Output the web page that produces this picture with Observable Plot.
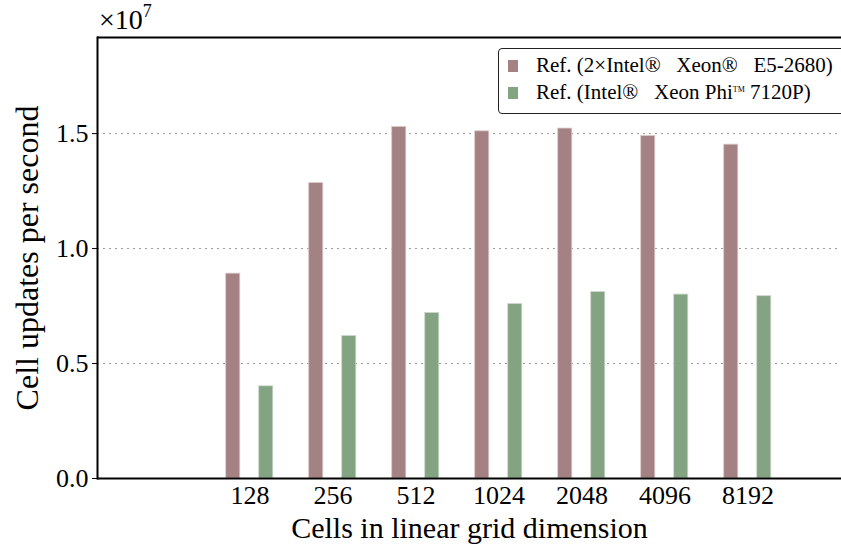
<!DOCTYPE html>
<html>
<head>
<meta charset="utf-8">
<script src="https://cdn.jsdelivr.net/npm/d3@7"></script>
<script src="https://cdn.jsdelivr.net/npm/@observablehq/plot@0.6"></script>
<style>
  html, body { margin: 0; padding: 0; background: #fff; }
  #wrap { position: relative; width: 841px; height: 544px; font-family: "Liberation Serif", "DejaVu Serif", serif; }
  #wrap svg { font-family: "Liberation Serif", serif; }
  g[aria-label="y-axis label"] text { font-size: 32px; }
  g[aria-label="x-axis label"] text { font-size: 30px; }
  #scale { position: absolute; left: 99px; top: 3px; font-size: 28px; color: #000; }
  #scale sup { font-size: 18px; position: relative; top: -2px; }
  #legend { position: absolute; left: 498px; top: 48px; width: 350px; height: 64px; border: 1px solid #222; border-radius: 4px; background: #fff; font-size: 21px; }
  .row { position: absolute; left: 9px; display: flex; align-items: center; white-space: pre; }
  .sw { width: 10px; height: 12px; margin-right: 18px; }
  .tm { font-size: 8px; position: relative; top: -7px; }
</style>
</head>
<body>
<div id="wrap"></div>
<script>
const sizes = ["128", "256", "512", "1024", "2048", "4096", "8192"];
const xeonValues = [8.91e6, 12.85e6, 15.29e6, 15.10e6, 15.22e6, 14.90e6, 14.52e6];
const phiValues = [4.01e6, 6.20e6, 7.20e6, 7.59e6, 8.11e6, 8.00e6, 7.93e6];
const yTicks = [0, 0.5e7, 1.0e7, 1.5e7];
const gridTicks = [0.5e7, 1.0e7, 1.5e7];
const seriesNames = ["Ref. (2×Intel®   Xeon®   E5-2680)", "Ref. (Intel®   Xeon Phi™ 7120P)"];
const colors = ["#a48283", "#84a383"];

const xeon = sizes.map((s, i) => ({size: s, value: xeonValues[i]}));
const phi = sizes.map((s, i) => ({size: s, value: phiValues[i]}));

const chart = Plot.plot({
  width: 841,
  height: 544,
  marginLeft: 97,
  marginRight: 0,
  marginTop: 37,
  marginBottom: 66,
  style: {fontFamily: "Liberation Serif", fontSize: "26px", background: "#fff", color: "#000"},
  x: {domain: sizes, range: [207.33, 790.67], padding: 0},
  y: {domain: [0, 1.918e7]},
  marks: [
    Plot.ruleY(gridTicks, {stroke: "#999", strokeWidth: 1, strokeDasharray: "2,4"}),
    Plot.barY(xeon, {x: "size", y: "value", fill: colors[0], stroke: "#dccbcb", strokeWidth: 0.8, insetLeft: 17.7, insetRight: 51.2}),
    Plot.barY(phi, {x: "size", y: "value", fill: colors[1], stroke: "#cddacc", strokeWidth: 0.8, insetLeft: 50.7, insetRight: 18.2}),
    Plot.ruleY([0], {stroke: "#000", strokeWidth: 2}),
    Plot.ruleY([1.918e7], {stroke: "#000", strokeWidth: 2}),
    Plot.frame({anchor: "left", stroke: "#000", strokeWidth: 2}),
    Plot.axisY({ticks: yTicks, tickFormat: d => (d / 1e7).toFixed(1), tickSize: 5, tickPadding: 4, label: "Cell updates per second", labelAnchor: "center", labelArrow: "none", labelOffset: 82}),
    Plot.axisX({tickSize: 0, tickPadding: 7, label: "Cells in linear grid dimension", labelAnchor: "center", labelArrow: "none", labelOffset: 59})
  ]
});

const wrap = document.getElementById("wrap");
wrap.appendChild(chart);

const scale = document.createElement("div");
scale.id = "scale";
scale.innerHTML = "×10<sup>7</sup>";
wrap.appendChild(scale);

const legend = document.createElement("div");
legend.id = "legend";
seriesNames.forEach((name, i) => {
  const row = document.createElement("div");
  row.className = "row";
  row.style.top = (i === 0 ? 4 : 31) + "px";
  const sw = document.createElement("span");
  sw.className = "sw";
  sw.style.background = colors[i];
  row.appendChild(sw);
  const t = document.createElement("span");
  if (name.includes("™")) {
    const parts = name.split("™");
    t.append(parts[0]);
    const tm = document.createElement("span");
    tm.className = "tm";
    tm.textContent = "TM";
    t.appendChild(tm);
    t.append(parts[1]);
  } else {
    t.textContent = name;
  }
  row.appendChild(t);
  legend.appendChild(row);
});
wrap.appendChild(legend);
</script>
</body>
</html>
